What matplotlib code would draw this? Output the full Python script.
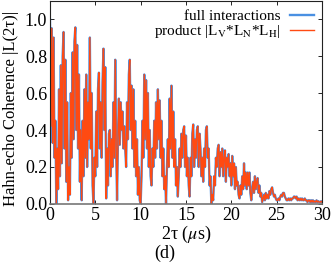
import numpy as np
import matplotlib
matplotlib.use("Agg")
import matplotlib.pyplot as plt

plt.rcParams['font.family'] = ['Liberation Serif', 'DejaVu Serif']
plt.rcParams['mathtext.fontset'] = 'stix'

# time grid, 0.1 us steps
t_vals = np.arange(301) * 0.1

# |L(2tau)|, one row per microsecond
full_interactions = [
    1.00, 0.42, 0.95, 0.33, 0.90, 0.25, 0.45, 0.00, 0.30, 0.08,
    0.62, 0.15, 0.75, 0.22, 0.80, 0.93, 0.30, 0.78, 0.12, 0.55,
    0.02, 0.20, 0.05, 0.60, 0.25, 0.82, 0.35, 0.88, 0.955, 0.40,
    0.86, 0.30, 0.70, 0.12, 0.40, 0.02, 0.45, 0.15, 0.62, 0.25,
    0.70, 0.20, 0.55, 0.35, 0.90, 0.30, 0.60, 0.10, 0.00, 0.25,
    0.15, 0.50, 0.20, 0.62, 0.71, 0.30, 0.55, 0.25, 0.66, 0.84,
    0.40, 0.74, 0.03, 0.30, 0.10, 0.38, 0.40, 0.15, 0.35, 0.20,
    0.55, 0.25, 0.78, 0.30, 0.02, 0.35, 0.57, 0.32, 0.55, 0.40,
    0.50, 0.30, 0.42, 0.30, 0.20, 0.55, 0.35, 0.70, 0.78, 0.40,
    0.64, 0.30, 0.62, 0.20, 0.45, 0.15, 0.35, 0.05, 0.20, 0.02,
    0.00, 0.15, 0.45, 0.25, 0.70, 0.35, 0.67, 0.30, 0.60, 0.20,
    0.40, 0.15, 0.10, 0.30, 0.20, 0.45, 0.25, 0.55, 0.30, 0.62,
    0.35, 0.56, 0.25, 0.45, 0.15, 0.30, 0.08, 0.15, 0.00, 0.20,
    0.35, 0.20, 0.57, 0.30, 0.64, 0.25, 0.50, 0.20, 0.35, 0.10,
    0.20, 0.04, 0.15, 0.30, 0.20, 0.38, 0.25, 0.40, 0.42, 0.20,
    0.37, 0.15, 0.25, 0.10, 0.04, 0.25, 0.15, 0.38, 0.43, 0.20,
    0.35, 0.25, 0.40, 0.42, 0.20, 0.38, 0.30, 0.15, 0.25, 0.12,
    0.30, 0.20, 0.40, 0.42, 0.25, 0.30, 0.10, 0.15, 0.00, 0.05,
    0.02, 0.15, 0.10, 0.25, 0.20, 0.30, 0.32, 0.15, 0.28, 0.20,
    0.30, 0.15, 0.25, 0.29, 0.12, 0.25, 0.20, 0.27, 0.15, 0.22,
    0.10, 0.26, 0.15, 0.22, 0.08, 0.20, 0.10, 0.12, 0.05, 0.03,
    0.10, 0.05, 0.15, 0.08, 0.22, 0.10, 0.17, 0.08, 0.17, 0.10,
    0.17, 0.06, 0.02, 0.08, 0.12, 0.06, 0.15, 0.08, 0.12, 0.14,
    0.06, 0.10, 0.04, 0.06, 0.01, 0.03, 0.05, 0.02, 0.06, 0.03,
    0.05, 0.03, 0.07, 0.05, 0.08, 0.09, 0.06, 0.04, 0.05, 0.03,
    0.02, 0.02, 0.03, 0.02, 0.04, 0.05, 0.04, 0.06, 0.06, 0.04,
    0.03, 0.02, 0.02, 0.03, 0.02, 0.03, 0.02, 0.03, 0.03, 0.04,
    0.04, 0.03, 0.04, 0.02, 0.03, 0.02, 0.03, 0.02, 0.03, 0.02,
    0.02, 0.03, 0.02, 0.02, 0.01, 0.02, 0.02, 0.01, 0.02, 0.01,
    0.02, 0.01, 0.015, 0.01, 0.02, 0.01, 0.015, 0.01, 0.01, 0.015,
    0.01,
]
# the product curve lies on top of the full one at this resolution
product_LVLNLH = list(full_interactions)

x_ticks = [0, 5, 10, 15, 20, 25, 30]
y_ticks = [0.0, 0.2, 0.4, 0.6, 0.8, 1.0]

fig = plt.figure(figsize=(3.33, 2.67), dpi=100)
ax = fig.add_axes([0.150, 0.236, 0.817, 0.762])

ax.plot(t_vals, full_interactions, color='#4a90e2', linewidth=1.7,
        label='full interactions')
ax.plot(t_vals, product_LVLNLH, color='#ff4a12', linewidth=1.0,
        label=r'product |L$_{\rm V}$*L$_{\rm N}$*L$_{\rm H}$|')

ax.set_xlim(0, 30)
ax.set_ylim(0, 1.1)
ax.set_xticks(x_ticks)
ax.set_yticks(y_ticks)
ax.set_yticklabels([f"{v:.1f}" for v in y_ticks])
ax.tick_params(direction='in', top=True, right=True, labelsize=13,
               length=3, width=0.6)
ax.tick_params(axis='x', pad=2)
ax.tick_params(axis='y', pad=2)
for s in ax.spines.values():
    s.set_linewidth(0.8)
    s.set_color('#222222')
ax.spines['bottom'].set_color('#777777')
ax.spines['bottom'].set_linewidth(1.2)

ax.set_xlabel(r'2τ ($\mu$s)', fontsize=13, labelpad=0)
ax.set_ylabel('Hahn-echo Coherence |L(2τ)|', fontsize=12, labelpad=0)
ax.yaxis.set_label_coords(-0.115, 0.47)

leg = ax.legend(loc='upper right', frameon=False, markerfirst=False,
                fontsize=11, handlelength=1.6, borderaxespad=0.0,
                borderpad=0.25, labelspacing=0.02, handletextpad=0.6,
                bbox_to_anchor=(0.985, 0.975))

fig.text(0.495, 0.052, '(d)', ha='center', va='center', fontsize=13)

fig.savefig('out.png', dpi=100)
